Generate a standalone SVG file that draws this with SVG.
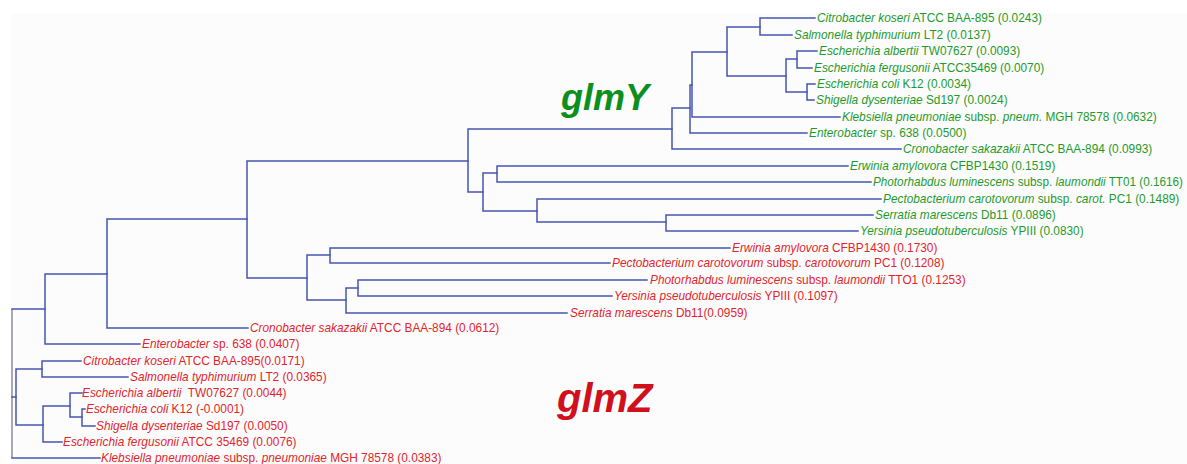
<svg xmlns="http://www.w3.org/2000/svg" width="1187" height="464" viewBox="0 0 1187 464">
  <style>
    .br { fill: none; stroke: #4556ae; stroke-width: 1.5; stroke-linecap: square; }
    .root { fill: none; stroke: #8a8f9c; stroke-width: 1.5; }
    .lbl { font-family: "Liberation Sans", Arial, sans-serif; font-size: 11.85px; }
    .g { fill: #1f9a2c; }
    .r { fill: #e3242b; }
    .sp { font-style: italic; }
    .gene { font-family: "Liberation Sans", Arial, sans-serif; font-weight: bold; font-style: italic; }
  </style>
  <rect x="0" y="0" width="1187" height="464" fill="#ffffff"/>
  <rect x="11" y="14" width="1176" height="450" fill="#fcfcfc"/>

  <!-- branches -->
  <g id="connectors">
    <path class="root" d="M12 309 V458"/>
    <!-- root children -->
    <path class="br" d="M12 309 H45 M12 397 H16 M12 458 H100"/>
    <!-- N1 -->
    <path class="br" d="M45 274 V344 M45 274 H107 M45 344 H140"/>
    <!-- N3 -->
    <path class="br" d="M107 219 V328 M107 219 H247 M107 328 H248"/>
    <!-- N4 -->
    <path class="br" d="M247 161 V278 M247 161 H468 M247 278 H307"/>
    <!-- glmY clade -->
    <path class="br" d="M468 129 V192 M468 129 H672 M468 192 H483"/>
    <path class="br" d="M672 108 V149 M672 108 H690 M672 149 H901"/>
    <path class="br" d="M690 85 V133 M690 85 H692 M690 133 H807"/>
    <path class="br" d="M692 52 V117 M692 52 H727 M692 117 H840"/>
    <path class="br" d="M727 27 V76 M727 27 H760 M727 76 H786"/>
    <path class="br" d="M760 18 V35 M760 18 H815 M760 35 H792"/>
    <path class="br" d="M786 59 V92 M786 59 H797 M786 92 H807"/>
    <path class="br" d="M797 51 V68 M797 51 H817 M797 68 H812"/>
    <path class="br" d="M807 84 V100 M807 84 H815 M807 100 H814"/>
    <path class="br" d="M483 173 V211 M483 173 H497 M483 211 H537"/>
    <path class="br" d="M497 166 V182 M497 166 H848 M497 182 H871"/>
    <path class="br" d="M537 199 V222 M537 199 H881 M537 222 H666"/>
    <path class="br" d="M666 215 V231 M666 215 H873 M666 231 H858"/>
    <!-- glmZ upper clade -->
    <path class="br" d="M307 255 V300 M307 255 H330 M307 300 H346"/>
    <path class="br" d="M330 248 V263 M330 248 H730 M330 263 H610"/>
    <path class="br" d="M346 288 V313 M346 288 H358 M346 313 H567"/>
    <path class="br" d="M358 280 V296 M358 280 H647 M358 296 H612"/>
    <!-- glmZ lower clade -->
    <path class="br" d="M16 369 V425 M16 369 H42 M16 425 H43"/>
    <path class="br" d="M42 361 V377 M42 361 H81 M42 377 H128"/>
    <path class="br" d="M43 406 V442 M43 406 H70 M43 442 H62"/>
    <path class="br" d="M70 393 V417 M70 393 H82 M70 417 H82"/>
    <path class="br" d="M82 409 V426 M82 409 H85 M82 426 H95"/>
  </g>

  <!-- glmY leaves -->
  <g id="y-citrobacter"><text class="lbl g" x="817" y="22"><tspan class="sp">Citrobacter koseri</tspan> ATCC BAA-895 (0.0243)</text></g>
  <g id="y-salmonella"><text class="lbl g" x="794" y="39"><tspan class="sp">Salmonella typhimurium</tspan> LT2 (0.0137)</text></g>
  <g id="y-albertii"><text class="lbl g" x="819" y="55"><tspan class="sp">Escherichia albertii</tspan> TW07627 (0.0093)</text></g>
  <g id="y-fergusonii"><text class="lbl g" x="814" y="72"><tspan class="sp">Escherichia fergusonii</tspan> ATCC35469 (0.0070)</text></g>
  <g id="y-coli"><text class="lbl g" x="817" y="88"><tspan class="sp">Escherichia coli</tspan> K12 (0.0034)</text></g>
  <g id="y-shigella"><text class="lbl g" x="816" y="104"><tspan class="sp">Shigella dysenteriae</tspan> Sd197 (0.0024)</text></g>
  <g id="y-klebsiella"><text class="lbl g" x="842" y="121"><tspan class="sp">Klebsiella pneumoniae</tspan> subsp. <tspan class="sp">pneum.</tspan> MGH 78578 (0.0632)</text></g>
  <g id="y-enterobacter"><text class="lbl g" x="809" y="137"><tspan class="sp">Enterobacter</tspan> sp. 638 (0.0500)</text></g>
  <g id="y-cronobacter"><text class="lbl g" x="903" y="153"><tspan class="sp">Cronobacter sakazakii</tspan> ATCC BAA-894 (0.0993)</text></g>
  <g id="y-erwinia"><text class="lbl g" x="850" y="170"><tspan class="sp">Erwinia amylovora</tspan> CFBP1430 (0.1519)</text></g>
  <g id="y-photorhabdus"><text class="lbl g" x="873" y="186" textLength="310" lengthAdjust="spacingAndGlyphs"><tspan class="sp">Photorhabdus luminescens</tspan> subsp. <tspan class="sp">laumondii</tspan> TT01 (0.1616)</text></g>
  <g id="y-pectobacterium"><text class="lbl g" x="883" y="203"><tspan class="sp">Pectobacterium carotovorum</tspan> subsp. <tspan class="sp">carot.</tspan> PC1 (0.1489)</text></g>
  <g id="y-serratia"><text class="lbl g" x="875" y="219"><tspan class="sp">Serratia marescens</tspan> Db11 (0.0896)</text></g>
  <g id="y-yersinia"><text class="lbl g" x="860" y="235"><tspan class="sp">Yersinia pseudotuberculosis</tspan> YPIII (0.0830)</text></g>

  <!-- glmZ leaves -->
  <g id="z-erwinia"><text class="lbl r" x="732" y="252"><tspan class="sp">Erwinia amylovora</tspan> CFBP1430 (0.1730)</text></g>
  <g id="z-pectobacterium"><text class="lbl r" x="612" y="267"><tspan class="sp">Pectobacterium carotovorum</tspan> subsp. <tspan class="sp">carotovorum</tspan> PC1 (0.1208)</text></g>
  <g id="z-photorhabdus"><text class="lbl r" x="650" y="284"><tspan class="sp">Photorhabdus luminescens</tspan> subsp. <tspan class="sp">laumondii</tspan> TTO1 (0.1253)</text></g>
  <g id="z-yersinia"><text class="lbl r" x="614" y="300"><tspan class="sp">Yersinia pseudotuberculosis</tspan> YPIII (0.1097)</text></g>
  <g id="z-serratia"><text class="lbl r" x="570" y="317"><tspan class="sp">Serratia marescens</tspan> Db11(0.0959)</text></g>
  <g id="z-cronobacter"><text class="lbl r" x="250" y="332"><tspan class="sp">Cronobacter sakazakii</tspan> ATCC BAA-894 (0.0612)</text></g>
  <g id="z-enterobacter"><text class="lbl r" x="142" y="348"><tspan class="sp">Enterobacter</tspan> sp. 638 (0.0407)</text></g>
  <g id="z-citrobacter"><text class="lbl r" x="83" y="365"><tspan class="sp">Citrobacter koseri</tspan> ATCC BAA-895(0.0171)</text></g>
  <g id="z-salmonella"><text class="lbl r" x="130" y="381"><tspan class="sp">Salmonella typhimurium</tspan> LT2 (0.0365)</text></g>
  <g id="z-albertii"><text class="lbl r" x="82" y="397" xml:space="preserve"><tspan class="sp">Escherichia albertii</tspan>  TW07627 (0.0044)</text></g>
  <g id="z-coli"><text class="lbl r" x="86" y="413"><tspan class="sp">Escherichia coli</tspan> K12 (-0.0001)</text></g>
  <g id="z-shigella"><text class="lbl r" x="96" y="430"><tspan class="sp">Shigella dysenteriae</tspan> Sd197 (0.0050)</text></g>
  <g id="z-fergusonii"><text class="lbl r" x="63" y="446"><tspan class="sp">Escherichia fergusonii</tspan> ATCC 35469 (0.0076)</text></g>
  <g id="z-klebsiella"><text class="lbl r" x="101" y="462"><tspan class="sp">Klebsiella pneumoniae</tspan> subsp. <tspan class="sp">pneumoniae</tspan> MGH 78578 (0.0383)</text></g>

  <!-- gene labels -->
  <g id="gene-glmY"><text class="gene" x="561" y="110" font-size="36" fill="#0b8f1f">glmY</text></g>
  <g id="gene-glmZ"><text class="gene" x="557" y="412" font-size="40" fill="#d0101c">glmZ</text></g>
</svg>
